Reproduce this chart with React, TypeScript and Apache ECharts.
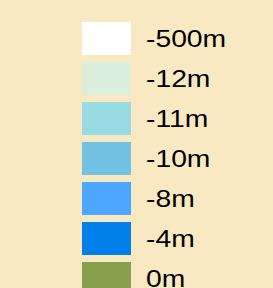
import React, { useEffect, useRef } from "react";
import * as echarts from "echarts";

const depthLabels = ["-500m", "-12m", "-11m", "-10m", "-8m", "-4m", "0m"];
const depthValues = [-500, -12, -11, -10, -8, -4, 0];
const depthColors = ["#ffffff", "#dcefdc", "#99dbe2", "#74c2e2", "#4da6ff", "#0080e8", "#86a04e"];

const SX = 1.23;

export default function App() {
  const ref = useRef<HTMLDivElement>(null);
  useEffect(() => {
    if (!ref.current) return;
    const chart = echarts.init(ref.current, null, { renderer: "svg" });
    const pieces = depthValues.map((v, i) => ({ value: v, label: depthLabels[i], color: depthColors[i] }));
    chart.setOption({
      animation: false,
      backgroundColor: "#f8e9c2",
      visualMap: {
        type: "piecewise",
        orient: "vertical",
        inverse: true,
        left: 82 / SX,
        top: 22,
        padding: 0,
        itemWidth: 49 / SX,
        itemHeight: 33,
        itemGap: 7,
        itemSymbol: "rect",
        textGap: 15 / SX,
        selectedMode: false,
        pieces,
        textStyle: { fontFamily: "Liberation Sans", fontSize: 23, color: "#000" },
      },
      series: [],
    });
    return () => chart.dispose();
  }, []);
  return (
    <div
      ref={ref}
      style={{
        position: "fixed",
        left: 0,
        top: 0,
        width: 273 / SX,
        height: 288,
        transform: `scaleX(${SX})`,
        transformOrigin: "0 0",
      }}
    />
  );
}
